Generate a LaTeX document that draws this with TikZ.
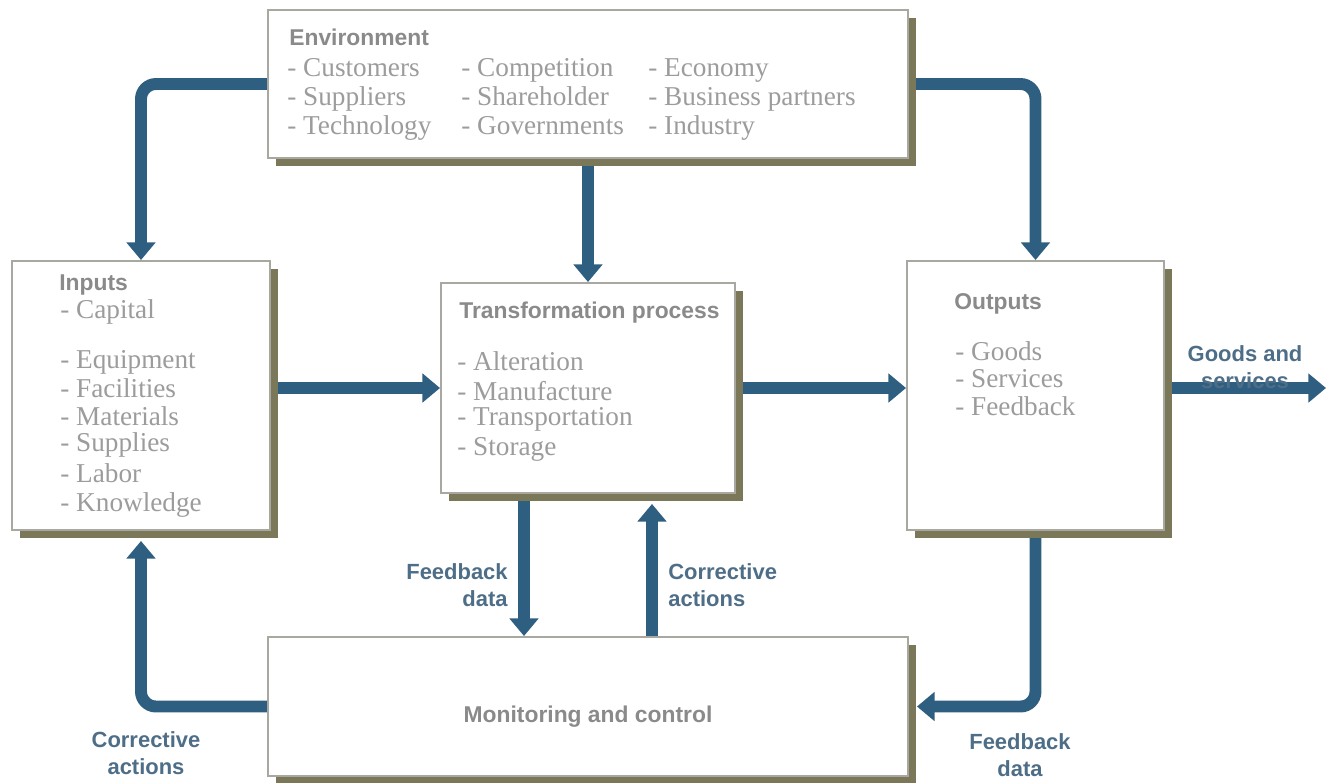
\documentclass[tikz,border=0pt]{standalone}
\usepackage{fontspec}
\setmainfont{Liberation Serif}
\setsansfont{Liberation Sans}
\usepackage{tikz}
\usetikzlibrary{calc}
\usetikzlibrary{arrows.meta}
\usetikzlibrary{shadows,backgrounds}
\definecolor{flowblue}{RGB}{47,95,128}
\definecolor{lblblue}{RGB}{78,110,136}
\definecolor{titlegray}{RGB}{138,138,138}
\definecolor{itemgray}{RGB}{156,156,156}
\definecolor{shadowolive}{RGB}{122,120,88}
\definecolor{boxedge}{RGB}{168,168,160}
\newcommand{\pxu}{0.02cm}

\begin{document}
\begin{tikzpicture}[x=0.02cm, y=-0.02cm,
  box/.style={draw=boxedge, line width=1.1pt, fill=white, inner sep=0pt,
    drop shadow={shadow xshift=0.16cm, shadow yshift=-0.16cm, fill=shadowolive, opacity=1}},
  title/.style={anchor=base west, inner sep=0pt, text=titlegray, font=\sffamily\bfseries\fontsize{13}{15}\selectfont},
  item/.style={anchor=base west, inner sep=0pt, text=itemgray, font=\fontsize{15.5}{18}\selectfont},
  flow/.style={draw=flowblue, line width=6.8pt, rounded corners=0.3cm, -{Triangle[width=16pt,length=10pt]}},
  flowlbl/.style={inner sep=0pt, text=lblblue, font=\sffamily\bfseries\fontsize{12.5}{15}\selectfont}]
\path[use as bounding box] (0,0) rectangle (1326,782);
% boxes
\node[box, minimum width=640*\pxu, minimum height=148*\pxu] (env) at (588,84) {};
\node[box, minimum width=258*\pxu, minimum height=269*\pxu] (inp) at (141,395.5) {};
\node[box, minimum width=294*\pxu, minimum height=210*\pxu] (trans) at (588,388) {};
\node[box, minimum width=257*\pxu, minimum height=269*\pxu] (outp) at (1035.5,395.5) {};
\node[box, minimum width=640*\pxu, minimum height=139*\pxu] (mon) at (588,706.5) {};
% box texts
\node[title] (envt) at (289,45) {Environment};
\foreach \txt/\x/\y [count=\i] in {Customers/287/76, Suppliers/287/105, Technology/287/134,
    Competition/461/76, Shareholder/461/105, Governments/461/134,
    Economy/648/76, Business partners/648/105, Industry/648/134}
  \node[item] (env\i) at (\x,\y) {- \txt};
\node[title] (inpt) at (59,290) {Inputs};
\foreach \txt/\y [count=\i] in {Capital/318, Equipment/368, Facilities/397, Materials/425,
    Supplies/451, Labor/482, Knowledge/511}
  \node[item] (inp\i) at (60,\y) {- \txt};
\node[title] (transt) at (459,318) {Transformation process};
\foreach \txt/\y [count=\i] in {Alteration/370, Manufacture/400, Transportation/425, Storage/455}
  \node[item] (trans\i) at (457,\y) {- \txt};
\node[title] (outpt) at (954,309) {Outputs};
\foreach \txt/\y [count=\i] in {Goods/360, Services/387, Feedback/415}
  \node[item] (outp\i) at (955,\y) {- \txt};
\node[title, anchor=base] (mont) at (588,722) {Monitoring and control};
% flows
\coordinate (goods) at (1326,388);
\coordinate (fbtop) at ($(trans.south)+(-64,0)$);
\coordinate (catop) at ($(trans.south)+(64,10)$);
\begin{scope}[on background layer]
\draw[flow] (env.west) -| (inp.north);
\draw[flow] (env.east) -| (outp.north);
\draw[flow] (env.south) -- (trans.north);
\draw[flow] (inp.east |- trans.west) -- (trans.west);
\draw[flow] (trans.east) -- (trans.east -| outp.west);
\draw[flow] (trans.east -| outp.east) -- (goods);
\draw[flow] (fbtop) -- (fbtop |- mon.north);
\draw[flow] (catop |- mon.north) -- (catop);
\draw[flow] (outp.south) |- ($(mon.east)+(8,0)$);
\draw[flow] (mon.west) -| ($(inp.south)+(0,10)$);
\end{scope}
% flow labels
\node[flowlbl, align=center] (goodsl) at (1245,367) {Goods and\\services};
\node[flowlbl, align=right, anchor=east] (fbl) at (508,585) {Feedback\\data};
\node[flowlbl, align=left, anchor=west] (cal) at (668,585) {Corrective\\actions};
\node[flowlbl, align=center] (cabl) at (146,753) {Corrective\\actions};
\node[flowlbl, align=center] (fbbl) at (1020,755) {Feedback\\data};
\end{tikzpicture}
\end{document}
